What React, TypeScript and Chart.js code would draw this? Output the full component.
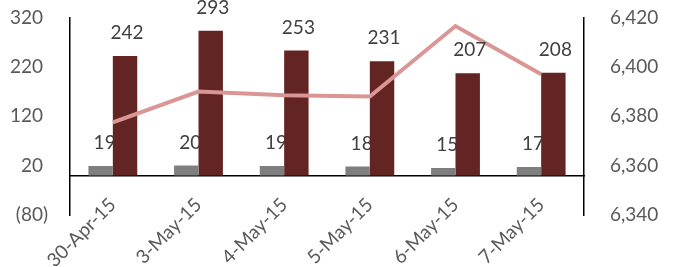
import React, { useEffect, useRef } from 'react';
import { Chart, registerables } from 'chart.js';

Chart.register(...registerables);

const categories = ['30-Apr-15', '3-May-15', '4-May-15', '5-May-15', '6-May-15', '7-May-15'];
const greyValues = [19, 20, 19, 18, 15, 17];
const redValues = [242, 293, 253, 231, 207, 208];
const lineValues = [6377.5, 6390, 6388.5, 6388, 6416.5, 6397];
const leftMin = -80;
const leftMax = 320;
const leftStep = 100;
const rightMin = 6340;
const rightMax = 6420;
const rightStep = 20;

const FONT = 'Lato, "Open Sans", sans-serif';
const FONT_SIZE = 19;

function drawLabels(chart: any, idx: number, dx: number) {
  const meta = chart.getDatasetMeta(idx);
  const ctx = chart.ctx;
  ctx.save();
  ctx.font = `${FONT_SIZE}px ${FONT}`;
  ctx.fillStyle = '#404040';
  ctx.textAlign = 'center';
  ctx.textBaseline = 'middle';
  meta.data.forEach((el: any, i: number) => {
    const v = chart.data.datasets[idx].data[i];
    ctx.fillText(String(v), el.x + dx, el.y - 23);
  });
  ctx.restore();
}

const labelPlugin = {
  id: 'barLabels',
  beforeDatasetsDraw(chart: any) {
    drawLabels(chart, 0, 4);
  },
  afterDatasetsDraw(chart: any) {
    drawLabels(chart, 1, 2);
  },
};

const hiddenTickGrid = (len: number) => ({
  display: true,
  drawOnChartArea: false,
  drawTicks: true,
  tickLength: len,
  color: 'rgba(0,0,0,0)',
});

export default function App() {
  const ref = useRef<HTMLCanvasElement | null>(null);

  useEffect(() => {
    if (!ref.current) return;
    const chart = new Chart(ref.current, {
      type: 'bar',
      data: {
        labels: categories,
        datasets: [
          {
            type: 'bar',
            data: greyValues,
            backgroundColor: '#7F7F7F',
            yAxisID: 'y',
            order: 1,
            categoryPercentage: 0.57,
            barPercentage: 1.0,
          } as any,
          {
            type: 'bar',
            data: redValues,
            backgroundColor: '#632523',
            yAxisID: 'y',
            order: 1,
            categoryPercentage: 0.57,
            barPercentage: 1.0,
          } as any,
          {
            type: 'line',
            data: lineValues,
            borderColor: '#D99694',
            borderWidth: 4,
            pointRadius: 0,
            tension: 0,
            yAxisID: 'y1',
            order: 0,
          } as any,
        ],
      },
      options: {
        animation: false,
        responsive: false,
        maintainAspectRatio: false,
        layout: { padding: { top: 0, bottom: 52, left: 0, right: 0 } },
        plugins: {
          legend: { display: false },
          tooltip: { enabled: false },
        },
        scales: {
          x: {
            type: 'category',
            axis: 'x',
            position: { y: 0 } as any,
            offset: true,
            grid: { display: false, drawTicks: false },
            border: { display: true, color: '#000000', width: 1.5 },
            ticks: {
              minRotation: 45,
              maxRotation: 45,
              autoSkip: false,
              padding: 18,
              color: '#595959',
              font: { family: FONT, size: FONT_SIZE },
            },
          } as any,
          y: {
            type: 'linear',
            position: 'left',
            min: leftMin,
            max: leftMax,
            grid: hiddenTickGrid(18),
            border: { display: true, color: '#000000', width: 1.5 },
            ticks: {
              stepSize: leftStep,
              padding: 4,
              color: '#595959',
              font: { family: FONT, size: FONT_SIZE },
              callback: (v: any) => (v < 0 ? `(${-v})` : `${v} `),
            },
            afterFit: (s: any) => {
              s.width = 70;
            },
          } as any,
          y1: {
            type: 'linear',
            position: 'right',
            min: rightMin,
            max: rightMax,
            grid: hiddenTickGrid(20),
            border: { display: true, color: '#000000', width: 1.5 },
            ticks: {
              stepSize: rightStep,
              padding: 6,
              color: '#595959',
              font: { family: FONT, size: FONT_SIZE },
              callback: (v: any) => Number(v).toLocaleString('en-US'),
            },
            afterFit: (s: any) => {
              s.width = 101;
            },
          } as any,
        },
      },
      plugins: [labelPlugin],
    });
    return () => chart.destroy();
  }, []);

  return (
    <div style={{ position: 'absolute', left: 0, top: 0, width: 685, height: 267 }}>
      <canvas ref={ref} width={685} height={267} style={{ display: 'block' }} />
    </div>
  );
}
